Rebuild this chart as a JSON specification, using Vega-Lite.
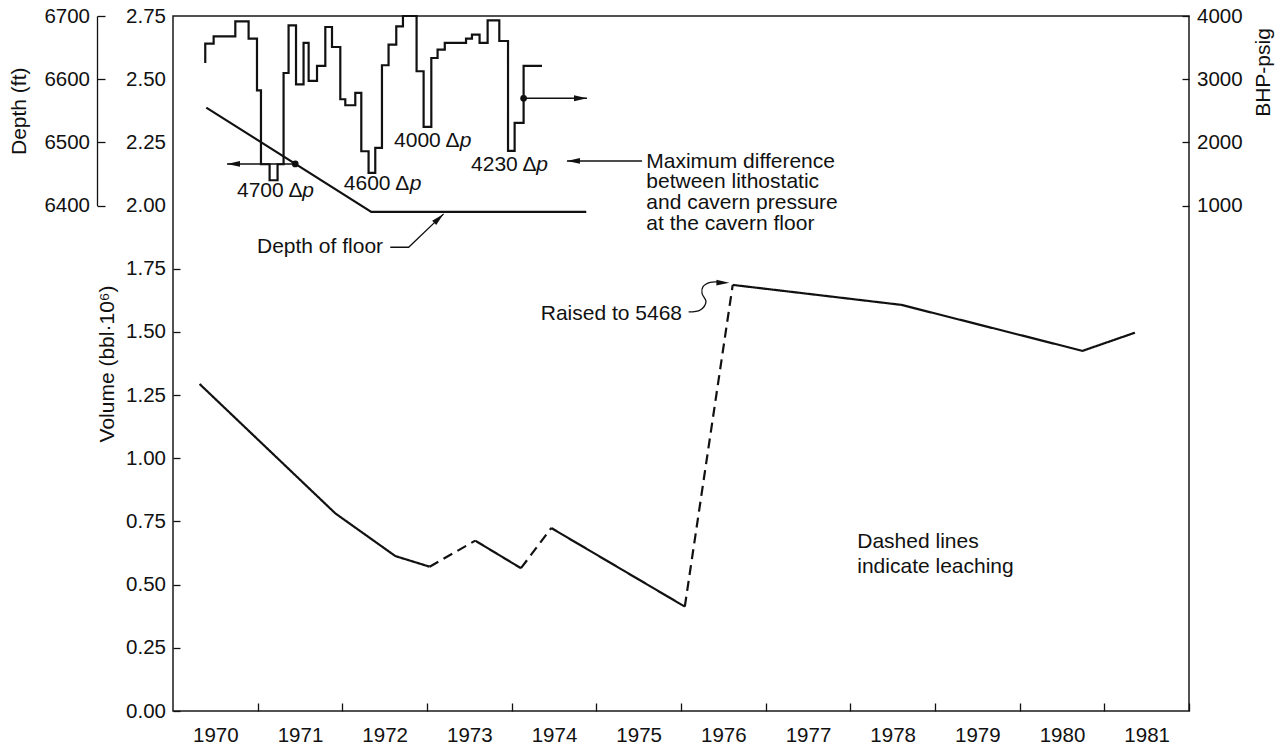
{
  "$schema": "https://vega.github.io/schema/vega-lite/v6.json",
  "width": 1016,
  "height": 695,
  "autosize": "none",
  "padding": {"left": 173, "top": 16, "right": 93, "bottom": 36},
  "background": "white",
  "config": {
    "view": {"stroke": "#1a1a1a", "strokeWidth": 1.5},
    "font": "Liberation Sans",
    "axis": {
      "labelFont": "Liberation Sans", "titleFont": "Liberation Sans",
      "labelColor": "#111", "titleColor": "#111", "tickColor": "#111", "domainColor": "#111",
      "grid": false, "labelFontSize": 20.5, "titleFontSize": 21, "titleFontWeight": "normal",
      "tickWidth": 1.3, "domainWidth": 1.3
    },
    "text": {"font": "Liberation Sans", "fontSize": 21, "color": "#111"}
  },
  "datasets": {
    "vol": [
      {"year": 1970.314, "v": 1.294, "seg": 1, "style": "solid"},
      {"year": 1971.917, "v": 0.782, "seg": 1, "style": "solid"},
      {"year": 1972.626, "v": 0.613, "seg": 1, "style": "solid"},
      {"year": 1973.031, "v": 0.571, "seg": 1, "style": "solid"},
      {"year": 1973.031, "v": 0.571, "seg": 2, "style": "dashed"},
      {"year": 1973.570, "v": 0.674, "seg": 2, "style": "dashed"},
      {"year": 1973.570, "v": 0.674, "seg": 3, "style": "solid"},
      {"year": 1974.110, "v": 0.565, "seg": 3, "style": "solid"},
      {"year": 1974.110, "v": 0.565, "seg": 4, "style": "dashed"},
      {"year": 1974.468, "v": 0.724, "seg": 4, "style": "dashed"},
      {"year": 1974.468, "v": 0.724, "seg": 5, "style": "solid"},
      {"year": 1976.045, "v": 0.413, "seg": 5, "style": "solid"},
      {"year": 1976.045, "v": 0.413, "seg": 6, "style": "dashed"},
      {"year": 1976.611, "v": 1.686, "seg": 6, "style": "dashed"},
      {"year": 1976.611, "v": 1.686, "seg": 7, "style": "solid"},
      {"year": 1978.602, "v": 1.607, "seg": 7, "style": "solid"},
      {"year": 1980.742, "v": 1.425, "seg": 7, "style": "solid"},
      {"year": 1981.362, "v": 1.497, "seg": 7, "style": "solid"}
    ],
    "depth": [
      {"year": 1970.393, "depth": 6555},
      {"year": 1972.342, "depth": 6390},
      {"year": 1974.881, "depth": 6390}
    ],
    "bhp": [
      {"year": 1970.381, "bhp": 3256},
      {"year": 1970.480, "bhp": 3563},
      {"year": 1970.736, "bhp": 3679},
      {"year": 1970.893, "bhp": 3916},
      {"year": 1970.992, "bhp": 3642},
      {"year": 1971.039, "bhp": 2824},
      {"year": 1971.141, "bhp": 1653},
      {"year": 1971.235, "bhp": 1400},
      {"year": 1971.306, "bhp": 1653},
      {"year": 1971.365, "bhp": 3098},
      {"year": 1971.453, "bhp": 3853},
      {"year": 1971.542, "bhp": 2919},
      {"year": 1971.602, "bhp": 3573},
      {"year": 1971.701, "bhp": 2972},
      {"year": 1971.799, "bhp": 3209},
      {"year": 1971.878, "bhp": 3826},
      {"year": 1971.976, "bhp": 3509},
      {"year": 1972.035, "bhp": 2682},
      {"year": 1972.153, "bhp": 2587},
      {"year": 1972.224, "bhp": 2782},
      {"year": 1972.310, "bhp": 1859},
      {"year": 1972.389, "bhp": 1516},
      {"year": 1972.468, "bhp": 1911},
      {"year": 1972.546, "bhp": 3220},
      {"year": 1972.637, "bhp": 3547},
      {"year": 1972.716, "bhp": 3837},
      {"year": 1972.877, "bhp": 4000},
      {"year": 1972.960, "bhp": 3125},
      {"year": 1973.051, "bhp": 2244},
      {"year": 1973.125, "bhp": 3335},
      {"year": 1973.210, "bhp": 3468},
      {"year": 1973.461, "bhp": 3573},
      {"year": 1973.531, "bhp": 3642},
      {"year": 1973.621, "bhp": 3706},
      {"year": 1973.716, "bhp": 3573},
      {"year": 1973.854, "bhp": 3932},
      {"year": 1973.957, "bhp": 3604},
      {"year": 1974.035, "bhp": 1864},
      {"year": 1974.141, "bhp": 2307},
      {"year": 1974.358, "bhp": 3209}
    ],
    "labels": [
      {"year": 1970.756, "v": 2.032, "label": "4700 Δ"},
      {"year": 1972.017, "v": 2.060, "label": "4600 Δ"},
      {"year": 1972.611, "v": 2.230, "label": "4000 Δ"},
      {"year": 1973.520, "v": 2.138, "label": "4230 Δ"},
      {"year": 1970.992, "v": 1.811, "label": "Depth of floor"}
    ],
    "pitalic": [
      {"year": 1971.527, "v": 2.032},
      {"year": 1972.797, "v": 2.060},
      {"year": 1973.387, "v": 2.230},
      {"year": 1974.291, "v": 2.138}
    ],
    "maxdiff": [
      {"year": 1975.590, "v": 2.150, "label": "Maximum difference\nbetween lithostatic\nand cavern pressure\nat the cavern floor"}
    ],
    "dashnote": [
      {"year": 1978.082, "v": 0.644, "label": "Dashed lines\nindicate leaching"}
    ],
    "raised": [
      {"year": 1976.012, "v": 1.547, "label": "Raised to 5468"}
    ],
    "harrows": [
      {"year": 1970.638, "year2": 1971.444, "v": 2.1646},
      {"year": 1974.141, "year2": 1974.890, "v": 2.4246},
      {"year": 1974.653, "year2": 1975.540, "v": 2.1765}
    ],
    "headsLeft": [
      {"year": 1970.638, "v": 2.1646},
      {"year": 1974.653, "v": 2.1765}
    ],
    "headsRight": [
      {"year": 1974.890, "v": 2.4246},
      {"year": 1976.571, "v": 1.695}
    ],
    "headDiag": [
      {"year": 1973.196, "v": 1.967}
    ],
    "dots": [
      {"year": 1971.444, "v": 2.1646},
      {"year": 1974.141, "v": 2.4246}
    ],
    "floorLeader": [
      {"year": 1972.566, "v": 1.835},
      {"year": 1972.783, "v": 1.835},
      {"year": 1973.196, "v": 1.967}
    ],
    "squiggle": [
      {"year": 1976.090, "v": 1.579},
      {"year": 1976.228, "v": 1.587},
      {"year": 1976.295, "v": 1.620},
      {"year": 1976.248, "v": 1.653},
      {"year": 1976.260, "v": 1.679},
      {"year": 1976.346, "v": 1.696},
      {"year": 1976.480, "v": 1.696}
    ]
  },
  "encoding": {
    "x": {
      "field": "year", "type": "quantitative",
      "scale": {"domain": [1970, 1982], "nice": false, "zero": false},
      "axis": {
        "values": [1971, 1972, 1973, 1974, 1975, 1976, 1977, 1978, 1979, 1980, 1981, 1982],
        "labelExpr": "'' + (datum.value - 1)",
        "labelOffset": -42.33,
        "tickSize": -8,
        "labelPadding": 22,
        "domain": false,
        "labelFlush": false,
        "labelOverlap": false,
        "labelBound": false,
        "title": null
      }
    }
  },
  "layer": [
    {
      "encoding": {
        "y": {
          "field": "v", "type": "quantitative",
          "scale": {"domain": [0, 2.75], "nice": false, "zero": false},
          "axis": {
            "orient": "left",
            "values": [0, 0.25, 0.5, 0.75, 1, 1.25, 1.5, 1.75, 2, 2.25, 2.5, 2.75],
            "format": ".2f",
            "tickSize": -7,
            "labelPadding": 14.5,
            "domain": false,
            "tickOpacity": {"condition": {"test": "datum.value > 1.8", "value": 0}, "value": 1},
            "title": "Volume (bbl·10⁶)",
            "titlePadding": 8
          }
        }
      },
      "layer": [
        {
          "data": {"name": "vol"},
          "mark": {"type": "line", "strokeWidth": 2.2, "color": "#111"},
          "encoding": {
            "detail": {"field": "seg", "type": "nominal"},
            "strokeDash": {
              "field": "style", "type": "nominal",
              "scale": {"domain": ["solid", "dashed"], "range": [[1, 0], [10, 6]]},
              "legend": null
            }
          }
        },
        {
          "data": {"name": "floorLeader"},
          "mark": {"type": "line", "strokeWidth": 1.3, "color": "#111"},
          "encoding": {"order": {"value": null}}
        },
        {
          "data": {"name": "squiggle"},
          "mark": {"type": "line", "strokeWidth": 1.3, "color": "#111", "interpolate": "catmull-rom"},
          "encoding": {"order": {"value": null}}
        },
        {
          "data": {"name": "harrows"},
          "mark": {"type": "rule", "strokeWidth": 1.4, "color": "#111"},
          "encoding": {"x2": {"field": "year2"}}
        },
        {
          "data": {"name": "headsLeft"},
          "mark": {"type": "point", "shape": "M0,0L2,-0.45L2,0.45Z", "filled": true, "size": 169, "color": "#111", "opacity": 1, "strokeWidth": 0},
          "encoding": {}
        },
        {
          "data": {"name": "headsRight"},
          "mark": {"type": "point", "shape": "M0,0L-2,-0.45L-2,0.45Z", "filled": true, "size": 169, "color": "#111", "opacity": 1, "strokeWidth": 0},
          "encoding": {}
        },
        {
          "data": {"name": "headDiag"},
          "mark": {"type": "point", "shape": "M0,0L-2,-0.45L-2,0.45Z", "filled": true, "size": 169, "color": "#111", "opacity": 1, "strokeWidth": 0, "angle": 316.4},
          "encoding": {}
        },
        {
          "data": {"name": "dots"},
          "mark": {"type": "point", "shape": "circle", "filled": true, "size": 45, "color": "#111", "opacity": 1},
          "encoding": {}
        },
        {
          "data": {"name": "labels"},
          "mark": {"type": "text", "align": "left", "baseline": "alphabetic", "fontSize": 21},
          "encoding": {"text": {"field": "label", "type": "nominal"}}
        },
        {
          "data": {"name": "pitalic"},
          "mark": {"type": "text", "align": "left", "baseline": "alphabetic", "fontSize": 21, "fontStyle": "italic", "text": "p"},
          "encoding": {}
        },
        {
          "data": {"name": "maxdiff"},
          "mark": {"type": "text", "align": "left", "baseline": "alphabetic", "fontSize": 21, "lineBreak": "\n", "lineHeight": 20.7},
          "encoding": {"text": {"field": "label", "type": "nominal"}}
        },
        {
          "data": {"name": "dashnote"},
          "mark": {"type": "text", "align": "left", "baseline": "alphabetic", "fontSize": 21, "lineBreak": "\n", "lineHeight": 24.5},
          "encoding": {"text": {"field": "label", "type": "nominal"}}
        },
        {
          "data": {"name": "raised"},
          "mark": {"type": "text", "align": "right", "baseline": "alphabetic", "fontSize": 21},
          "encoding": {"text": {"field": "label", "type": "nominal"}}
        }
      ]
    },
    {
      "data": {"name": "depth"},
      "mark": {"type": "line", "strokeWidth": 2.2, "color": "#111"},
      "encoding": {
        "y": {
          "field": "depth", "type": "quantitative",
          "scale": {"domain": [6400, 6700], "range": [189.5, 0], "nice": false, "zero": false},
          "axis": {
            "orient": "left",
            "offset": 76,
            "values": [6400, 6500, 6600, 6700],
            "format": "d",
            "tickSize": -8,
            "labelPadding": 15.5,
            "domain": true,
            "title": "Depth (ft)",
            "titlePadding": 14
          }
        }
      }
    },
    {
      "data": {"name": "bhp"},
      "mark": {"type": "line", "interpolate": "step-before", "strokeWidth": 2.2, "color": "#111"},
      "encoding": {
        "y": {
          "field": "bhp", "type": "quantitative",
          "scale": {"domain": [1000, 4000], "range": [189.5, 0], "nice": false, "zero": false},
          "axis": {
            "orient": "right",
            "values": [1000, 2000, 3000, 4000],
            "format": "d",
            "tickSize": -7,
            "labelPadding": 14.5,
            "domain": false,
            "title": "BHP-psig",
            "titleAngle": 270,
            "titleBaseline": "top",
            "titleY": 56,
            "titlePadding": 10
          }
        }
      }
    }
  ],
  "resolve": {"scale": {"y": "independent"}, "axis": {"y": "independent"}}
}
